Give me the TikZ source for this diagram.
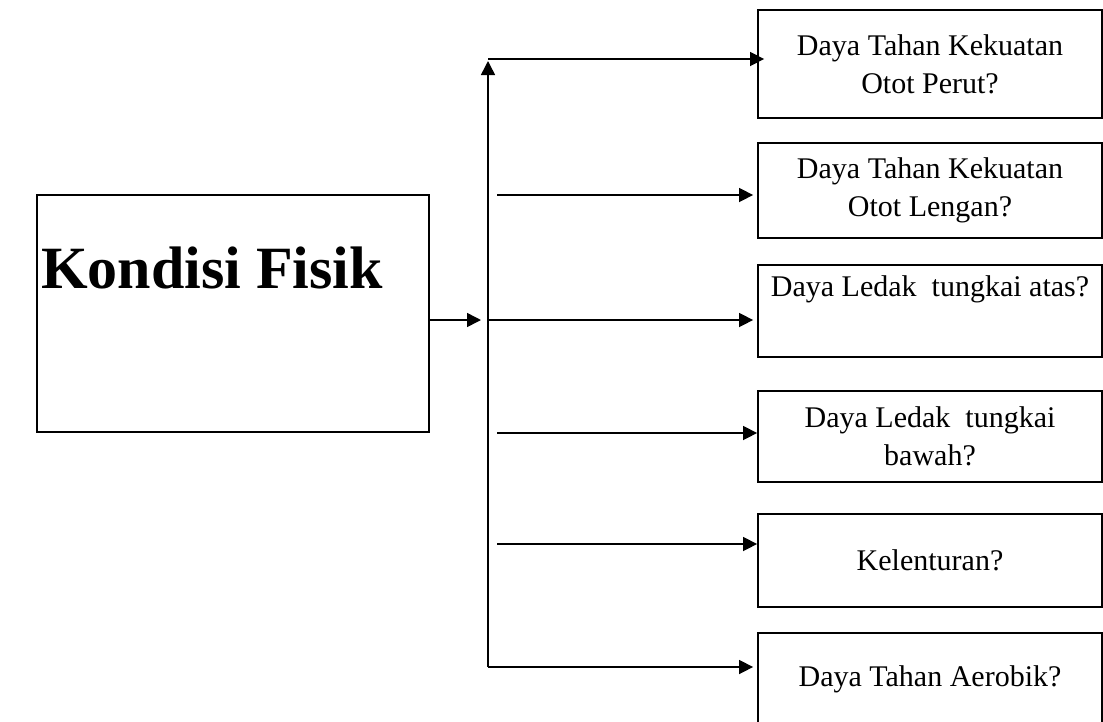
\documentclass[tikz,border=0pt]{standalone}
\usepackage{fontspec}
\setmainfont{Liberation Serif}
\usetikzlibrary{positioning}
\usetikzlibrary{arrows.meta}
\tikzset{>={Triangle[length=14pt,width=14pt]}}

\begin{document}
\begin{tikzpicture}[x=1pt, y=-1pt, line width=1.5pt,
  mainbox/.style={draw, line width=1.8pt, align=left, text width=384pt,
    inner xsep=4pt, minimum height=237pt,
    font=\fontsize{60}{70}\selectfont\bfseries,
    execute at begin node={\spaceskip=0pt\xspaceskip=0pt\relax}},
  itembox/.style={draw, line width=1.8pt, align=center, minimum width=344pt,
    inner sep=2pt, font=\fontsize{30}{38}\selectfont,
    execute at begin node={\spaceskip=0pt\xspaceskip=0pt\relax}}]

% Frame
\useasboundingbox (0,0) rectangle (1103,721);

% Main box
\node[mainbox] (kondisi) at (233,313.5) {Kondisi Fisik\\ \strut};

% Item boxes
\node[itembox, minimum height=108pt] (perut) at (930,64) {Daya Tahan Kekuatan\\ Otot Perut?};
\node[itembox, minimum height=95pt] (lengan) at (930,190.5) {Daya Tahan Kekuatan\\ Otot Lengan?};
\node[itembox, minimum height=92pt] (atas) at (930,311) {Daya Ledak~ tungkai atas?\\ \strut};
\node[itembox, minimum height=91pt] (bawah) at (930,436.5) {Daya Ledak~ tungkai\\ bawah?};
\node[itembox, minimum height=93pt] (lentur) at (930,560.5) {Kelenturan?};
\node[itembox, minimum height=92pt] (aerobik) at (930,679) {Daya Tahan Aerobik?};

% Trunk points
\coordinate (top) at (488,59);
\coordinate (bot) at (488,667);
\coordinate (fork) at (488,320);
\coordinate (inlet) at (481,320);

% Free starts of the short arrows
\coordinate (s2) at (497,195);
\coordinate (s4) at (497,433);
\coordinate (s5) at (497,544);

% Into the trunk
\draw[->] (kondisi.east |- inlet) -- (inlet);
\draw[->, shorten >=2pt] (bot) -- (top);

% Branches
\draw[->] (top) -- ([xshift=7pt]top -| perut.west);
\draw[->, shorten >=4pt] (s2) -- (s2 -| lengan.west);
\draw[->, shorten >=4pt] (fork) -- (fork -| atas.west);
\draw[->] (s4) -- (s4 -| bawah.west);
\draw[->] (s5) -- (s5 -| lentur.west);
\draw[->, shorten >=4pt] (bot) -- (bot -| aerobik.west);

\end{tikzpicture}
\end{document}
